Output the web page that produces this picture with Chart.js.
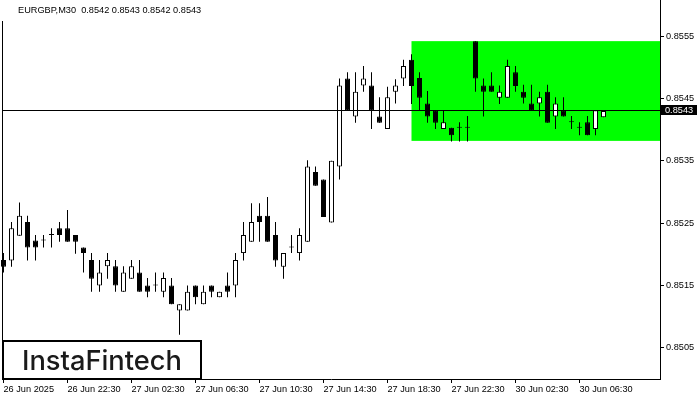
<!DOCTYPE html>
<html><head><meta charset="utf-8">
<script src="https://cdn.jsdelivr.net/npm/chart.js@4/dist/chart.umd.min.js"></script>
<style>html,body{margin:0;padding:0;background:#fff}canvas{display:block}</style>
</head><body>
<canvas id="c" width="700" height="400"></canvas>
<script>
const headerText = 'EURGBP,M30  0.8542 0.8543 0.8542 0.8543';
const logoText = 'InstaFintech';
const opens = [0.85191,0.85190,0.85230,0.85252,0.85222,0.85222,0.85231,0.85242,0.85242,0.85231,
0.85211,0.85191,0.85150,0.85181,0.85181,0.85140,0.85161,0.85171,0.85150,0.85150,
0.85140,0.85150,0.85110,0.85110,0.85150,0.85120,0.85150,0.85131,0.85150,0.85150,
0.85202,0.85220,0.85262,0.85262,0.85231,0.85180,0.85211,0.85202,0.85220,0.85332,
0.85320,0.85251,0.85341,0.85482,0.85421,0.85471,0.85471,0.85421,0.85401,0.85461,
0.85482,0.85512,0.85483,0.85442,0.85431,0.85401,0.85403,0.85403,0.85403,0.85542,
0.85471,0.85471,0.85451,0.85451,0.85492,0.85461,0.85442,0.85442,0.85461,0.85421,
0.85431,0.85412,0.85403,0.85412,0.85401,0.85420];
const highs = [0.85202,0.85252,0.85283,0.85262,0.85231,0.85231,0.85242,0.85252,0.85271,0.85231,
0.85211,0.85202,0.85191,0.85202,0.85191,0.85181,0.85191,0.85191,0.85162,0.85171,
0.85171,0.85162,0.85120,0.85150,0.85150,0.85150,0.85150,0.85140,0.85171,0.85202,
0.85252,0.85282,0.85282,0.85292,0.85252,0.85202,0.85231,0.85242,0.85351,0.85341,
0.85320,0.85350,0.85482,0.85492,0.85492,0.85502,0.85492,0.85452,0.85469,0.85481,
0.85512,0.85521,0.85492,0.85462,0.85431,0.85431,0.85403,0.85412,0.85422,0.85542,
0.85482,0.85492,0.85471,0.85512,0.85502,0.85472,0.85472,0.85461,0.85472,0.85452,
0.85452,0.85422,0.85412,0.85422,0.85431,0.85430];
const lows = [0.85171,0.85180,0.85230,0.85190,0.85190,0.85211,0.85211,0.85220,0.85220,0.85201,
0.85171,0.85140,0.85140,0.85161,0.85140,0.85140,0.85161,0.85140,0.85131,0.85140,
0.85131,0.85120,0.85071,0.85110,0.85120,0.85120,0.85131,0.85131,0.85131,0.85131,
0.85190,0.85220,0.85220,0.85220,0.85180,0.85161,0.85202,0.85190,0.85220,0.85310,
0.85260,0.85251,0.85320,0.85431,0.85411,0.85461,0.85401,0.85411,0.85401,0.85442,
0.85470,0.85441,0.85431,0.85411,0.85401,0.85401,0.85381,0.85381,0.85381,0.85461,
0.85421,0.85461,0.85441,0.85451,0.85461,0.85442,0.85431,0.85421,0.85411,0.85401,
0.85421,0.85401,0.85391,0.85391,0.85391,0.85420];
const closes = [0.85180,0.85242,0.85262,0.85211,0.85211,0.85222,0.85231,0.85231,0.85220,0.85220,
0.85202,0.85161,0.85171,0.85191,0.85150,0.85171,0.85181,0.85140,0.85140,0.85150,
0.85162,0.85120,0.85120,0.85140,0.85131,0.85140,0.85140,0.85140,0.85140,0.85191,
0.85231,0.85252,0.85252,0.85220,0.85190,0.85202,0.85211,0.85231,0.85341,0.85310,
0.85260,0.85350,0.85471,0.85431,0.85461,0.85482,0.85431,0.85411,0.85452,0.85471,
0.85502,0.85470,0.85451,0.85421,0.85411,0.85412,0.85391,0.85403,0.85403,0.85482,
0.85461,0.85461,0.85461,0.85502,0.85470,0.85451,0.85431,0.85452,0.85411,0.85442,
0.85421,0.85412,0.85403,0.85391,0.85431,0.85430];
const timeTickBars = [0,8,16,24,32,40,48,56,64,72];
const timeTickLabels = ['26 Jun 2025','26 Jun 22:30','27 Jun 02:30','27 Jun 06:30','27 Jun 10:30','27 Jun 14:30','27 Jun 18:30','27 Jun 22:30','30 Jun 02:30','30 Jun 06:30'];
const priceTicks = [0.8505,0.8515,0.8525,0.8535,0.8545,0.8555];
const currentPrice = 0.8543;
const zoneStartBar = 51;
const zoneTop = 0.85542;
const zoneBottom = 0.85382;

const axisFont = {family:'"Liberation Sans", Arial, sans-serif', size:9.2};

const bodyData = opens.map((o,i)=>({x:i, y:[o, closes[i]]}));
const wickData = lows.map((l,i)=>({x:i, y:[l, highs[i]]}));
const bodyColors = opens.map((o,i)=> closes[i] > o ? '#ffffff' : '#000000');

const decor = {
  id:'decor',
  beforeDatasetsDraw(chart){
    const {ctx, chartArea, scales:{x,y}} = chart;
    ctx.save();
    ctx.fillStyle = '#00ff00';
    const x0 = x.getPixelForValue(zoneStartBar);
    const y0 = y.getPixelForValue(zoneTop), y1 = y.getPixelForValue(zoneBottom);
    ctx.fillRect(x0, y0, chartArea.right - x0, y1 - y0);
    ctx.restore();
  },
  afterDatasetsDraw(chart){
    const {ctx, chartArea, scales:{x,y}} = chart;
    ctx.save();
    const py = Math.floor(y.getPixelForValue(currentPrice)) + 0.5;
    ctx.strokeStyle = '#000'; ctx.lineWidth = 1;
    ctx.beginPath(); ctx.moveTo(chartArea.left, py); ctx.lineTo(chartArea.right, py); ctx.stroke();
    ctx.beginPath(); ctx.moveTo(chartArea.left + 0.5, 21); ctx.lineTo(chartArea.left + 0.5, chartArea.bottom); ctx.stroke();
    ctx.fillStyle = '#000';
    ctx.fillRect(chartArea.right + 1, py - 5.5, 36, 10);
    ctx.fillStyle = '#fff';
    ctx.font = '9.2px "Liberation Sans", Arial, sans-serif';
    ctx.textBaseline = 'middle'; ctx.textAlign = 'left';
    ctx.fillText(currentPrice.toFixed(4), chartArea.right + 5, py);
    ctx.fillStyle = '#000';
    ctx.fillText(headerText, 18, 10);
    ctx.fillStyle = '#000';
    ctx.fillRect(2, 340, 200, 40);
    ctx.fillStyle = '#fff';
    ctx.fillRect(4, 342, 196, 36);
    let size = 28;
    ctx.font = '500 ' + size + 'px Inter, "Noto Sans", sans-serif';
    const w = ctx.measureText(logoText).width;
    size = size * 160 / w;
    ctx.font = '500 ' + size.toFixed(2) + 'px Inter, "Noto Sans", sans-serif';
    ctx.fillStyle = '#1a1a1a';
    ctx.textBaseline = 'alphabetic';
    ctx.fillText(logoText, 22, 370);
    ctx.restore();
  }
};

function noPad(s){ s.paddingTop = 0; s.paddingBottom = 0; s.paddingLeft = 0; s.paddingRight = 0; }

new Chart(document.getElementById('c'), {
  type:'bar',
  data:{datasets:[
    {label:'body', data:bodyData, backgroundColor:bodyColors, borderColor:'#000', borderWidth:1,
     borderSkipped:false, barThickness:5, minBarLength:1, grouped:false, order:0, clip:false, inflateAmount:0},
    {label:'wick', data:wickData, backgroundColor:'#000', borderWidth:0,
     barThickness:1, grouped:false, order:1, clip:false, inflateAmount:0}
  ]},
  options:{
    responsive:false, animation:false, devicePixelRatio:1,
    layout:{padding:{left:2, top:0, right:0, bottom:0}},
    plugins:{legend:{display:false}, tooltip:{enabled:false}},
    scales:{
      x:{type:'linear', position:'bottom', min:-0.1875, max:82.0625, offset:false,
        afterBuildTicks(s){ s.ticks = timeTickBars.map(v=>({value:v})); },
        afterFit(s){ s.height = 21; noPad(s); },
        ticks:{autoSkip:false, maxRotation:0, minRotation:0, align:'start', font:axisFont, color:'#000', padding:1,
          callback(v, i){ return timeTickLabels[i]; }},
        grid:{display:true, drawOnChartArea:false, offset:false, tickLength:4, tickColor:'#000', tickWidth:1},
        border:{display:true, color:'#000', width:1}
      },
      y:{type:'linear', position:'right', min:0.85, max:0.85608, beginAtZero:false,
        afterBuildTicks(s){ s.ticks = priceTicks.map(v=>({value:v})); },
        afterFit(s){ s.width = 40; noPad(s); },
        ticks:{font:axisFont, color:'#000', padding:2, callback(v){ return Number(v).toFixed(4); }},
        grid:{display:true, drawOnChartArea:false, tickLength:4, tickColor:'#000', tickWidth:1},
        border:{display:true, color:'#000', width:1}
      }
    }
  },
  plugins:[decor]
});
</script>
</body></html>
